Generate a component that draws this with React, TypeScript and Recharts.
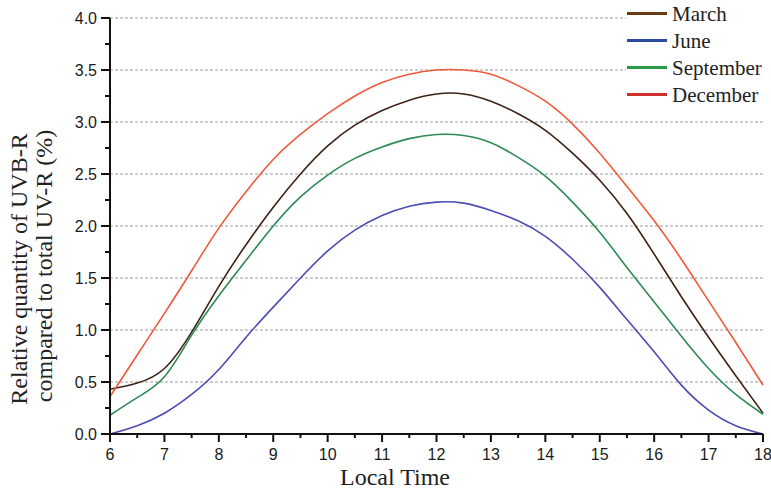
import React from 'react';
import { LineChart, Line, XAxis, YAxis, ReferenceLine, Customized } from 'recharts';

// local time (h)
const hours = [6, 6.5, 7, 7.5, 8, 8.5, 9, 9.5, 10, 10.5, 11, 11.5, 12, 12.5, 13, 13.5, 14, 14.5, 15, 15.5, 16, 16.5, 17, 17.5, 18];

// relative UVB-R share (%) per month
const march = [0.43, 0.49, 0.63, 0.98, 1.42, 1.82, 2.18, 2.5, 2.77, 2.97, 3.11, 3.21, 3.27, 3.27, 3.2, 3.08, 2.92, 2.7, 2.44, 2.12, 1.73, 1.32, 0.93, 0.56, 0.2];
const june = [0.0, 0.08, 0.2, 0.38, 0.62, 0.93, 1.22, 1.5, 1.76, 1.96, 2.1, 2.19, 2.23, 2.22, 2.15, 2.05, 1.9, 1.68, 1.41, 1.1, 0.79, 0.47, 0.23, 0.08, 0.0];
const september = [0.18, 0.35, 0.55, 0.95, 1.33, 1.67, 2.0, 2.28, 2.49, 2.65, 2.76, 2.84, 2.88, 2.87, 2.8, 2.66, 2.48, 2.23, 1.94, 1.6, 1.27, 0.94, 0.63, 0.38, 0.19];
const december = [0.36, 0.76, 1.16, 1.57, 1.98, 2.33, 2.64, 2.88, 3.08, 3.25, 3.38, 3.46, 3.5, 3.5, 3.46, 3.35, 3.2, 2.98, 2.7, 2.38, 2.05, 1.68, 1.28, 0.88, 0.47];

const xTicks = [6, 6.5, 7, 7.5, 8, 8.5, 9, 9.5, 10, 10.5, 11, 11.5, 12, 12.5, 13, 13.5, 14, 14.5, 15, 15.5, 16, 16.5, 17, 17.5, 18];
const yTicks = [0, 0.25, 0.5, 0.75, 1, 1.25, 1.5, 1.75, 2, 2.25, 2.5, 2.75, 3, 3.25, 3.5, 3.75, 4];
const gridValues = [0.5, 1, 1.5, 2, 2.5, 3, 3.5, 4];

const series = [
  { key: 'march', name: 'March', color: '#3d2216', swatch: '#6a3a12' },
  { key: 'june', name: 'June', color: '#4c4cb2', swatch: '#2b4c9c' },
  { key: 'september', name: 'September', color: '#2d8a55', swatch: '#2a9a48' },
  { key: 'december', name: 'December', color: '#ef5a3c', swatch: '#d0302c' },
];

const data = hours.map((h, i) => ({
  hour: h,
  march: march[i],
  june: june[i],
  september: september[i],
  december: december[i],
}));

const SERIF = '"Liberation Serif", "Times New Roman", serif';
const SANS = '"Liberation Sans", Arial, sans-serif';

const YTick = (props: any) => {
  const { x, y, payload } = props;
  const v = payload.value;
  const major = Math.abs(v * 2 - Math.round(v * 2)) < 1e-6;
  return (
    <g>
      <line x1={x} x2={x - (major ? 9 : 5)} y1={y} y2={y} stroke="#111" strokeWidth={2} />
      {major && (
        <text x={x - 13} y={y + 6} textAnchor="end" fontFamily={SANS} fontSize={16} fill="#1a1a1a">
          {v.toFixed(1)}
        </text>
      )}
    </g>
  );
};

const XTick = (props: any) => {
  const { x, y, payload } = props;
  const v = payload.value;
  const major = Number.isInteger(v);
  return (
    <g>
      <line x1={x} x2={x} y1={y} y2={y + (major ? 8 : 4)} stroke="#111" strokeWidth={2} />
      {major && (
        <text x={x} y={y + 26} textAnchor="middle" fontFamily={SANS} fontSize={16} fill="#1a1a1a">
          {v}
        </text>
      )}
    </g>
  );
};

const AxisTitles = () => (
  <g fontFamily={SERIF} fontSize={24} fill="#222">
    <text transform="translate(27, 269) rotate(-90)" textAnchor="middle">Relative quantity of UVB-R</text>
    <text transform="translate(52, 266) rotate(-90)" textAnchor="middle">compared to total UV-R (%)</text>
    <text x={395} y={485} textAnchor="middle">Local Time</text>
  </g>
);

export default function App() {
  return (
    <div style={{ position: 'absolute', left: 0, top: 0, width: 771, height: 491, background: '#fff' }}>
      <LineChart width={771} height={491} data={data} margin={{ top: 18, right: 8, left: 65, bottom: 27 }}>
        {gridValues.map(v => (
          <ReferenceLine key={v} y={v} stroke="#9a9a9a" strokeDasharray="3 2" strokeWidth={1} />
        ))}
        <XAxis
          dataKey="hour"
          type="number"
          domain={[6, 18]}
          ticks={xTicks}
          interval={0}
          height={30}
          tickSize={0}
          tickMargin={0}
          tick={<XTick />}
          axisLine={{ stroke: '#111', strokeWidth: 2 }}
        />
        <YAxis
          type="number"
          domain={[0, 4]}
          ticks={yTicks}
          interval={0}
          width={45}
          tickSize={0}
          tickMargin={0}
          tick={<YTick />}
          axisLine={{ stroke: '#111', strokeWidth: 2 }}
        />
        {series.map(s => (
          <Line
            key={s.key}
            type="natural"
            dataKey={s.key}
            name={s.name}
            stroke={s.color}
            strokeWidth={1.6}
            dot={false}
            activeDot={false}
            isAnimationActive={false}
          />
        ))}
        <Customized component={AxisTitles} />
      </LineChart>
      <div
        style={{
          position: 'absolute',
          left: 626,
          top: 0,
          width: 145,
          height: 106,
          background: '#fff',
          fontFamily: SERIF,
          fontSize: 21,
          color: '#222',
        }}
      >
        {series.map(s => (
          <div key={s.key} style={{ display: 'flex', alignItems: 'center', height: 27 }}>
            <span style={{ display: 'inline-block', width: 40, height: 3, background: s.swatch, marginLeft: 1, marginRight: 5 }} />
            <span style={{ lineHeight: '24px' }}>{s.name}</span>
          </div>
        ))}
      </div>
    </div>
  );
}
